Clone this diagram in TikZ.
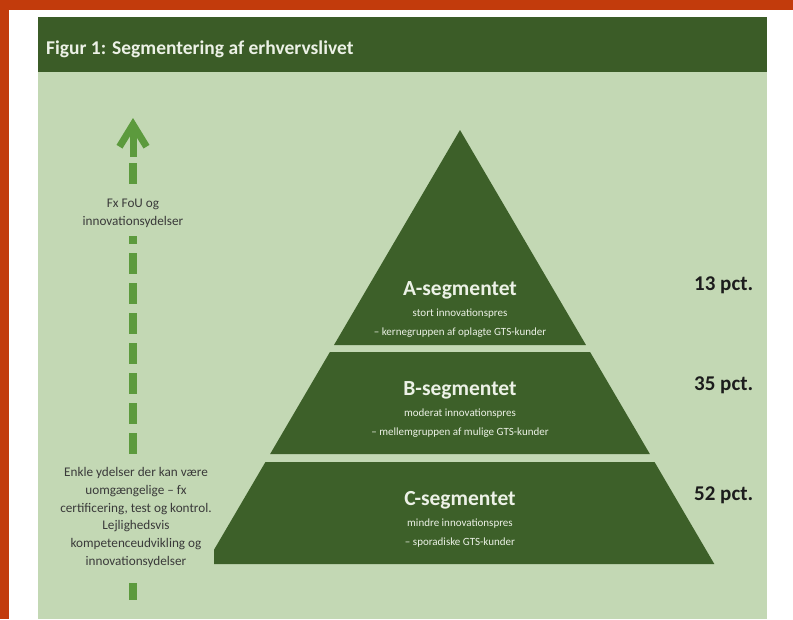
\documentclass[tikz,border=0pt]{standalone}
\usepackage{fontspec}
\setmainfont{Carlito}
\usetikzlibrary{arrows.meta, positioning}

\definecolor{frameOrange}{HTML}{C23B0C}
\definecolor{titleGreen}{HTML}{3B5C27}
\definecolor{bgGreen}{HTML}{C3D8B4}
\definecolor{tierGreen}{HTML}{3D6029}
\definecolor{arrowGreen}{HTML}{5C9A3D}
\definecolor{tierText}{HTML}{ECF1E6}
\definecolor{noteText}{HTML}{3A3A3A}
\definecolor{pctText}{HTML}{1C1C1C}

\tikzset{
    titleText/.style={font=\fontsize{19.5}{22}\selectfont\bfseries, text=tierText, inner sep=0pt, anchor=base west},
    segName/.style={font=\fontsize{21.5}{24}\selectfont\bfseries, text=tierText, inner sep=0pt, anchor=base},
    segInfo/.style={font=\fontsize{11}{13}\selectfont, text=tierText, inner sep=0pt, anchor=base},
    pctLabel/.style={font=\fontsize{21}{23}\selectfont\bfseries, text=pctText, inner sep=0pt, anchor=base west},
    sideNote/.style={font=\fontsize{13.2}{17.8}\selectfont, text=noteText, align=center, fill=bgGreen, inner xsep=2pt, inner ysep=8pt},
    dashArrow/.style={draw=arrowGreen, line width=8pt, dash pattern=on 21pt off 9pt},
    headArrow/.style={draw=arrowGreen, line width=7pt, -{Straight Barb[length=22pt, width=27pt]}},
}

% one band of the pyramid, between two heights
\newcommand{\drawTier}[2]{
    \fill[tierGreen] ({460-0.586*(#1-130)},#1) -- ({460+0.586*(#1-130)},#1) -- ({460+0.586*(#2-130)},#2) -- ({460-0.586*(#2-130)},#2) -- cycle;
}
\newcommand{\segText}[5]{
    \node[segName] (#1) at (460,#2) {#3};
    \node[segInfo] (#1info) at (460,#2+21) {#4};
    \node[segInfo] (#1kind) at (460,#2+40) {#5};
}

\begin{document}
\begin{tikzpicture}[x=1pt, y=-1pt]
        \useasboundingbox (0,0) rectangle (793,619);

        % frame and panel
        \fill[white] (0,0) rectangle (793,619);
        \fill[frameOrange] (0,0) rectangle (793,10);
        \fill[frameOrange] (0,0) rectangle (9,619);
        \fill[titleGreen] (38,17) rectangle (767,72);
        \fill[bgGreen] (38,72) rectangle (767,619);
        \node[titleText] (title) at (46,54) {Figur 1: Segmentering af erhvervslivet};

        % pyramid
        \drawTier{130}{345}
        \drawTier{352}{454}
        \drawTier{462}{564}

        \segText{segA}{295}{A-segmentet}{stort innovationspres}{-- kernegruppen af oplagte GTS-kunder}
        \segText{segB}{395}{B-segmentet}{moderat innovationspres}{-- mellemgruppen af mulige GTS-kunder}
        \segText{segC}{505}{C-segmentet}{mindre innovationspres}{-- sporadiske GTS-kunder}

        \node[pctLabel] (pctA) at (694,290) {13 pct.};
        \node[pctLabel] (pctB) at (694,390) {35 pct.};
        \node[pctLabel] (pctC) at (694,500) {52 pct.};

        % arrow on the left
        \coordinate (arrowTip) at (133,118);
        \coordinate (shaftTop) at (133,157);
        \coordinate (dashTop) at (133,163);
        \coordinate (arrowFoot) at (133,600);

        \draw[dashArrow] (dashTop) -- (arrowFoot);
        \draw[headArrow] (shaftTop) -- (arrowTip);

        \node[sideNote] (upperNote) at (133,213.5) {Fx FoU og\\innovationsydelser};
        \node[sideNote] (lowerNote) at (136,517.5) {Enkle ydelser der kan være\\uomgængelige -- fx\\certificering, test og kontrol.\\Lejlighedsvis\\kompetenceudvikling og\\innovationsydelser};

    \end{tikzpicture}
\end{document}
